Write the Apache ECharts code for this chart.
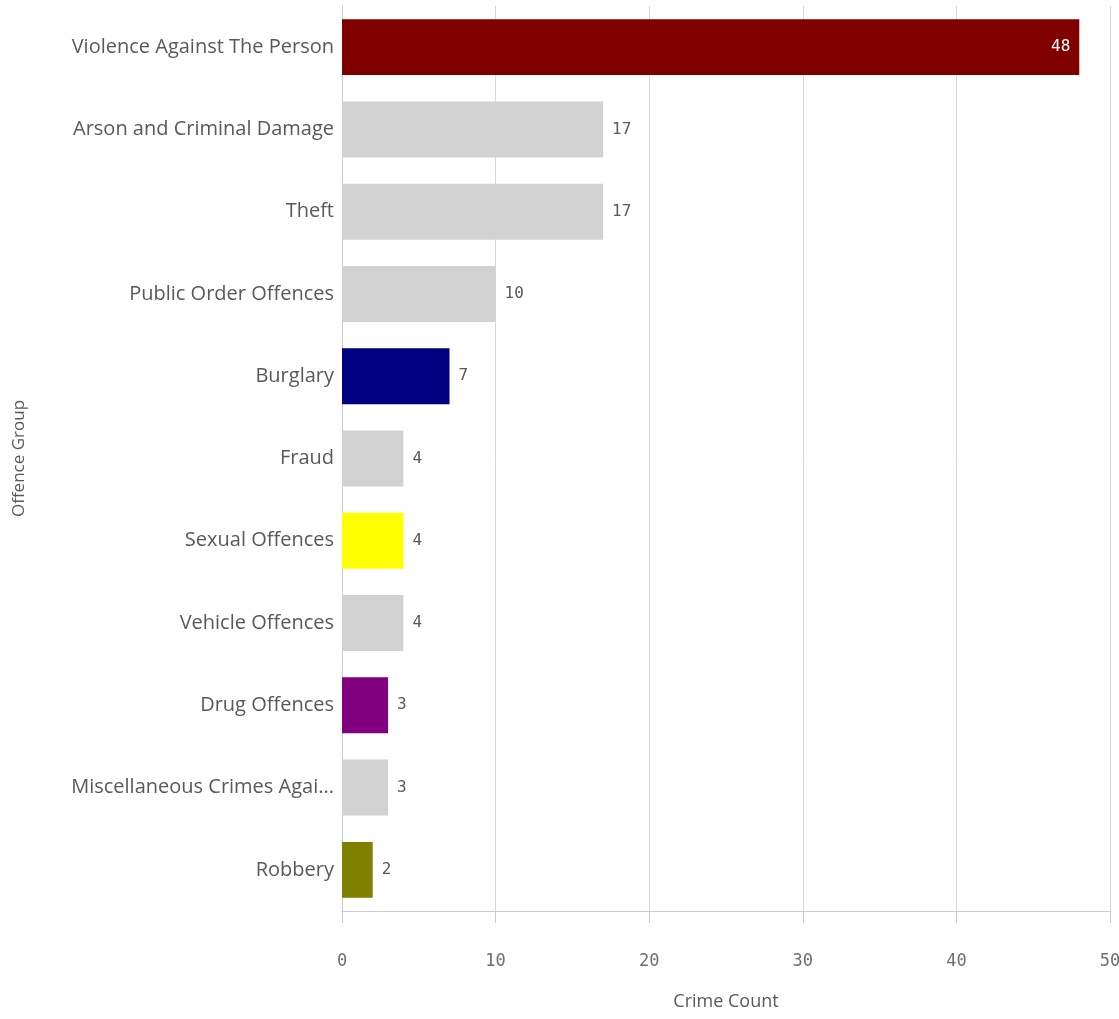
<!DOCTYPE html>
<html><head><meta charset="utf-8">
<script src="https://cdn.jsdelivr.net/npm/echarts@6/dist/echarts.min.js"></script>
<style>html,body{margin:0;padding:0;background:#fff}#c{width:1119px;height:1019px}</style>
</head><body><div id="c"></div>
<script>
const categories = ["Violence Against The Person","Arson and Criminal Damage","Theft","Public Order Offences","Burglary","Fraud","Sexual Offences","Vehicle Offences","Drug Offences","Miscellaneous Crimes Agai...","Robbery"];
const values = [48,17,17,10,7,4,4,4,3,3,2];
const colors = ["#800000","#d2d2d2","#d2d2d2","#d2d2d2","#000080","#d2d2d2","#ffff00","#d2d2d2","#800080","#d2d2d2","#808000"];
const xTicks = [0,10,20,30,40,50];

const chart = echarts.init(document.getElementById('c'));
chart.setOption({
  animation:false,
  grid:{left:342,right:9,top:6,bottom:108,containLabel:false,outerBoundsMode:'none'},
  xAxis:{type:'value',min:0,max:50,interval:10,
    name:'Crime Count',nameLocation:'middle',nameGap:82,
    nameTextStyle:{color:'#595959',fontSize:18,fontFamily:'Open Sans'},
    axisLine:{show:true,lineStyle:{color:'#cccccc'}},
    axisTick:{show:true,length:12,lineStyle:{color:'#cccccc'}},
    axisLabel:{margin:42,color:'#6e6e6e',fontSize:17,fontFamily:'DejaVu Sans Mono',
      formatter:v=>xTicks.includes(v)?String(v):''},
    splitLine:{show:true,lineStyle:{color:'#d9d9d9'}}},
  yAxis:{type:'category',data:categories,inverse:true,
    name:'Offence Group',nameLocation:'middle',nameGap:314,nameRotate:90,
    nameTextStyle:{color:'#595959',fontSize:17,fontFamily:'Open Sans'},
    axisLine:{show:true,lineStyle:{color:'#cccccc'}},
    axisTick:{show:false},
    axisLabel:{margin:8,color:'#595959',fontSize:20,fontFamily:'Open Sans'}},
  series:[{type:'bar',barCategoryGap:'32%',
    data:values.map((v,i)=>({value:v,itemStyle:{color:colors[i]},
      label:i===0?{position:'insideRight',color:'#ffffff',distance:9}:{}})),
    label:{show:true,position:'right',distance:9,color:'#595959',fontSize:16,fontFamily:'DejaVu Sans Mono'}}]
});
</script></body></html>
